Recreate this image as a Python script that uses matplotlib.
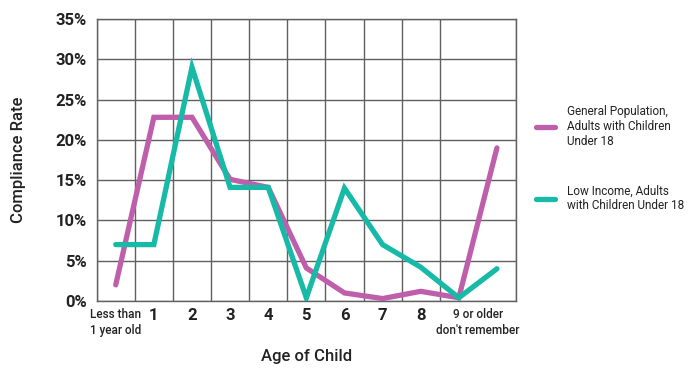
import matplotlib
matplotlib.use("Agg")
import matplotlib.pyplot as plt
import matplotlib.ticker as mticker

plt.rcParams["font.family"] = ["Roboto", "DejaVu Sans"]

EDADES = ["Less than\n1 year old", "1", "2", "3", "4", "5", "6", "7", "8",
          "9 or older", "don't remember"]
GENERAL = [2.0, 22.8, 22.8, 15.1, 14.1, 4.1, 1.0, 0.3, 1.2, 0.4, 19.0]
BAJO_INGRESO = [7.0, 7.0, 29.0, 14.1, 14.1, 0.4, 14.0, 7.0, 4.2, 0.4, 4.0]
SERIES = ["General Population,\nAdults with Children\nUnder 18",
          "Low Income, Adults\nwith Children Under 18"]
COLORES = ["#bf5fab", "#17b9a7"]
GRIS = "#606060"

fig = plt.figure(figsize=(6.94, 3.69), dpi=100)
ax = fig.add_axes([0.1393, 0.1843, 0.6042, 0.7642])

x = list(range(len(EDADES)))
for valores, nombre, color in zip([GENERAL, BAJO_INGRESO], SERIES, COLORES):
    ax.plot(x, valores, color=color, linewidth=3.8, label=nombre,
            solid_capstyle="round", solid_joinstyle="miter", zorder=3)

ax.set_xlim(-0.5, len(EDADES) - 0.5)
ax.set_ylim(0, 35)
ax.yaxis.set_major_locator(mticker.MultipleLocator(5))
ax.yaxis.set_major_formatter(mticker.FuncFormatter(lambda v, _: f"{v:.0f}%"))
ax.set_xticks([i - 0.5 for i in range(len(EDADES) + 1)], minor=True)
ax.grid(which="minor", axis="x", color=GRIS, linewidth=1)
ax.grid(which="major", axis="y", color=GRIS, linewidth=1)
for s in ax.spines.values():
    s.set_color(GRIS)
    s.set_linewidth(1)

# etiquetas del eje x: las dos últimas categorías comparten una etiqueta
ticks = x[:9] + [9.5]
etiquetas = EDADES[:9] + [EDADES[9] + "\n" + EDADES[10]]
ax.set_xticks(ticks)
ax.set_xticklabels(etiquetas)
for lab in ax.get_xticklabels():
    if "\n" in lab.get_text():
        lab.set_fontsize(8.5)
        lab.set_fontweight("medium")
        lab.set_linespacing(1.3)
    else:
        lab.set_fontsize(12)
        lab.set_fontweight("bold")
ax.tick_params(axis="both", which="both", length=0, colors="#222222")
ax.tick_params(axis="x", pad=5)
ax.tick_params(axis="y", labelsize=12, pad=7)
for lab in ax.get_yticklabels():
    lab.set_fontweight("bold")

ax.set_ylabel("Compliance Rate", fontsize=12, fontweight="medium",
              color="#222222", labelpad=21)
ax.set_xlabel("Age of Child", fontsize=12, fontweight="medium",
              color="#222222")
ax.xaxis.set_label_coords(0.5, -0.17)

ax.legend(loc="upper left", bbox_to_anchor=(0.757, 0.745),
          bbox_transform=fig.transFigure, frameon=False, fontsize=8.5,
          handlelength=1.6, handletextpad=1.0, labelspacing=3.1,
          labelcolor="#222222")

fig.savefig("out.png", dpi=100)
